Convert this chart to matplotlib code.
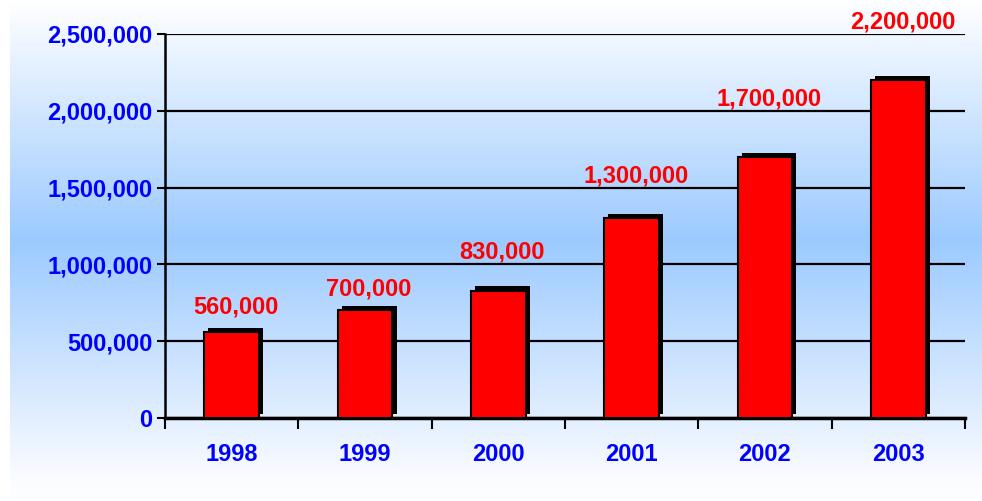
import numpy as np
import matplotlib
matplotlib.use("Agg")
import matplotlib.pyplot as plt
import matplotlib.patheffects as pe
from matplotlib.colors import LinearSegmentedColormap
from matplotlib.ticker import FuncFormatter

years = ["1998", "1999", "2000", "2001", "2002", "2003"]
values = [560000, 700000, 830000, 1300000, 1700000, 2200000]
label_y = [722000, 840000, 1080000, 1575000, 2080000, 2580000]
yticks = [0, 500000, 1000000, 1500000, 2000000, 2500000]

plt.rcParams['font.family'] = ['Liberation Sans', 'DejaVu Sans']

fig = plt.figure(figsize=(9.82, 5.01), dpi=100)

# background gradient
bg = fig.add_axes([0.01, 0.0, 0.99, 1.0], zorder=-10)
cmap = LinearSegmentedColormap.from_list(
    "bg", [(0.0, "#ffffff"), (0.48, "#9ccaff"), (0.95, "#f9fbff"), (1.0, "#ffffff")])
grad = np.linspace(0, 1, 256).reshape(-1, 1)
bg.imshow(grad, aspect="auto", cmap=cmap, extent=[0, 1, 0, 1], origin="upper")
bg.axis("off")

ax = fig.add_axes([165 / 982, 1 - 418 / 501, 800 / 982, 384 / 501])
ax.patch.set_alpha(0)

x = np.arange(len(years))
bars = ax.bar(x, values, width=0.41, color="#ff0000", edgecolor="black",
              linewidth=1.5, zorder=3)
for b in bars:
    b.set_path_effects([pe.SimplePatchShadow(offset=(3, 3), shadow_rgbFace="black",
                                             alpha=1.0), pe.Normal()])

for xi, v, ly in zip(x, values, label_y):
    ax.text(xi + 0.03, ly, f"{v:,}", ha="center", va="center", color="#ff0000",
            fontsize=17, fontweight="bold", zorder=5, clip_on=False)

ax.set_xlim(-0.5, 5.5)
ax.set_ylim(0, 2500000)
ax.set_yticks(yticks)
ax.yaxis.set_major_formatter(FuncFormatter(lambda v, p: f"{int(v):,}"))
ax.set_xticks(x)
ax.set_xticklabels(years)
ax.set_xticks(np.arange(-0.5, 6.0, 1.0), minor=True)
ax.tick_params(axis="x", which="major", length=0, pad=18, labelsize=17,
               labelcolor="#0000ff")
ax.tick_params(axis="x", which="minor", length=8, width=1.5, direction="out",
               color="black")
ax.tick_params(axis="y", length=6, width=1.5, labelsize=17, labelcolor="#0000ff",
               pad=3)
for lab in ax.get_xticklabels() + ax.get_yticklabels():
    lab.set_fontweight("bold")

ax.grid(axis="y", color="black", linewidth=1.6, zorder=1)
ax.set_axisbelow(True)
for s in ["top", "right"]:
    ax.spines[s].set_visible(False)
ax.spines["left"].set_linewidth(1.8)
ax.spines["bottom"].set_linewidth(2.5)

fig.savefig("out.png", dpi=100)
